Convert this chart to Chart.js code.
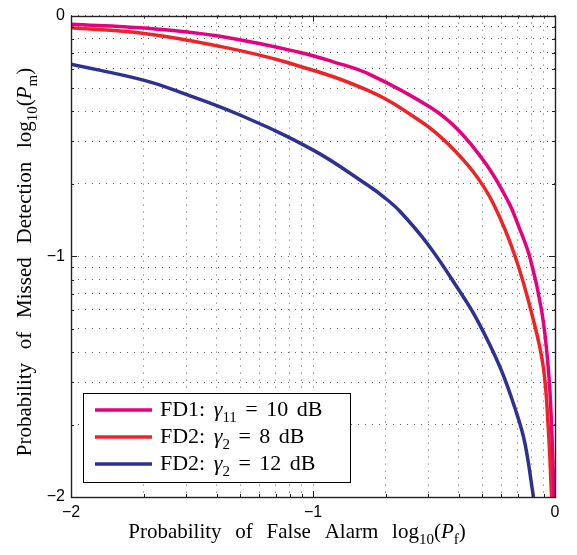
<!DOCTYPE html>
<html>
<head>
<meta charset="utf-8">
<script src="https://cdn.jsdelivr.net/npm/chart.js@4"></script>
<style>
  html, body { margin: 0; padding: 0; background: #fff; }
  #wrap { width: 577px; height: 555px; }
</style>
</head>
<body>
<div id="wrap"><canvas id="rocChart"></canvas></div>
<script>
// axis decades (log10 values)
const majorTicks = [-2, -1, 0];

// FD1: gamma_11 = 10 dB
const fd1X = [-2, -1.697, -1.398, -1.054, -0.916, -0.764, -0.517, -0.400, -0.282, -0.193, -0.153, -0.103, -0.055, -0.028, -0.014, -0.004];
const fd1Y = [-0.036, -0.052, -0.084, -0.153, -0.192, -0.245, -0.380, -0.475, -0.621, -0.773, -0.868, -1.007, -1.227, -1.461, -1.709, -2.0];

// FD2: gamma_2 = 8 dB
const fd2aX = [-2, -1.697, -1.398, -1.109, -0.764, -0.551, -0.446, -0.338, -0.255, -0.165, -0.090, -0.048, -0.028, -0.014];
const fd2aY = [-0.050, -0.074, -0.125, -0.194, -0.315, -0.442, -0.529, -0.649, -0.781, -1.0, -1.262, -1.462, -1.710, -2.0];

// FD2: gamma_2 = 12 dB
const fd2bX = [-2, -1.697, -1.550, -1.302, -0.999, -0.778, -0.702, -0.640, -0.524, -0.400, -0.324, -0.227, -0.158, -0.124, -0.089];
const fd2bY = [-0.202, -0.269, -0.318, -0.413, -0.559, -0.702, -0.758, -0.814, -0.952, -1.136, -1.260, -1.461, -1.654, -1.778, -2.0];

// legend text pieces: [text, kind] kind: n normal, i italic, sub subscript
const seriesLabels = [
    [['FD1: ', 'n'], ['γ', 'i'], ['11', 'sub'], [' = 10 dB', 'n']],
    [['FD2: ', 'n'], ['γ', 'i'], ['2', 'sub'], [' = 8 dB', 'n']],
    [['FD2: ', 'n'], ['γ', 'i'], ['2', 'sub'], [' = 12 dB', 'n']]
];
const seriesColors = ['#E6007E', '#EE2326', '#2E3192'];

const xTitle = [['Probability of False Alarm log', 'n'], ['10', 'sub'], ['(', 'n'], ['P', 'i'], ['f', 'sub'], [')', 'n']];
const yTitle = [['Probability of Missed Detection log', 'n'], ['10', 'sub'], ['(', 'n'], ['P', 'i'], ['m', 'sub'], [')', 'n']];

const toPoints = (xs, ys) => xs.map((x, i) => ({ x, y: ys[i] }));

// log-style positions inside each decade
const logTicks = () => {
    const out = [];
    for (let d = -2; d < 0; d++) {
        for (let k = 1; k < 10; k++) out.push({ value: d + Math.log10(k) });
    }
    out.push({ value: 0 });
    return out;
};
const isMajor = v => majorTicks.some(m => Math.abs(m - v) < 1e-9);

const SERIF = '"Liberation Serif", "Times New Roman", serif';

// draws text pieces left to right, extra px added after each space
const drawRich = (ctx, segs, x, y, size, gap, measureOnly) => {
    let cx = x;
    segs.forEach(([t, k]) => {
        const sub = k === 'sub';
        const fs = sub ? Math.round(size * 0.7) : size;
        ctx.font = (k === 'i' ? 'italic ' : '') + fs + 'px ' + SERIF;
        t.split(/( )/).forEach(part => {
            if (part === '') return;
            if (!measureOnly && part !== ' ') ctx.fillText(part, cx, y + (sub ? size * 0.28 : 0));
            cx += ctx.measureText(part).width + (part === ' ' ? gap : 0);
        });
    });
    return cx - x;
};

const frame = {
    id: 'frame',
    afterDatasetsDraw(chart) {
        const { ctx, chartArea: a, scales } = chart;
        ctx.save();
        ctx.strokeStyle = '#222';
        ctx.lineWidth = 1;
        ctx.beginPath();
        scales.x.ticks.forEach(t => {
            const px = Math.round(scales.x.getPixelForValue(t.value)) + 0.5;
            const len = isMajor(t.value) ? 6 : 3;
            ctx.moveTo(px, a.bottom); ctx.lineTo(px, a.bottom - len);
            ctx.moveTo(px, a.top); ctx.lineTo(px, a.top + len);
        });
        scales.y.ticks.forEach(t => {
            const py = Math.round(scales.y.getPixelForValue(t.value)) + 0.5;
            const len = isMajor(t.value) ? 6 : 3;
            ctx.moveTo(a.left, py); ctx.lineTo(a.left + len, py);
            ctx.moveTo(a.right, py); ctx.lineTo(a.right - len, py);
        });
        ctx.stroke();
        ctx.lineWidth = 1.4;
        ctx.strokeRect(Math.round(a.left) + 0.5, Math.round(a.top) + 0.5, Math.round(a.right - a.left), Math.round(a.bottom - a.top));
        ctx.restore();
    },
    afterDraw(chart) {
        const { ctx } = chart;
        ctx.save();
        ctx.fillStyle = '#000';
        ctx.textBaseline = 'alphabetic';
        ctx.textAlign = 'left';

        // axis titles
        const tsize = 21, tgap = 8.5;
        const xw = drawRich(ctx, xTitle, 0, 0, tsize, tgap, true);
        drawRich(ctx, xTitle, 297 - xw / 2, 538, tsize, tgap);
        const yw = drawRich(ctx, yTitle, 0, 0, tsize, tgap, true);
        ctx.save();
        ctx.translate(31, 262);
        ctx.rotate(-Math.PI / 2);
        drawRich(ctx, yTitle, -yw / 2, 0, tsize, tgap);
        ctx.restore();

        // legend
        const lsize = 22, lgap = 3;
        const bx = 83, by = 393, rowH = 27;
        const bw = 267, bh = 89;
        ctx.fillStyle = '#fff';
        ctx.fillRect(bx, by, bw, bh);
        ctx.strokeStyle = '#000';
        ctx.lineWidth = 1;
        ctx.strokeRect(bx + 0.5, by + 0.5, bw, bh);
        seriesLabels.forEach((segs, i) => {
            const cy = by + 17 + i * rowH;
            ctx.strokeStyle = seriesColors[i];
            ctx.lineWidth = 3.5;
            ctx.beginPath();
            ctx.moveTo(95, cy); ctx.lineTo(152, cy);
            ctx.stroke();
            ctx.fillStyle = '#000';
            drawRich(ctx, segs, 160, cy + 6, lsize, lgap);
        });
        ctx.restore();
    }
};

const axisOpts = (fitKey, fitSize) => ({
    type: 'linear',
    min: -2,
    max: 0,
    afterBuildTicks: s => { s.ticks = logTicks(); },
    afterFit: s => { s[fitKey] = fitSize; },
    ticks: {
        autoSkip: false,
        maxRotation: 0,
        padding: 6,
        color: '#000',
        font: { family: '"Liberation Sans", Arial, sans-serif', size: 16 },
        callback: v => isMajor(v) ? String(Math.round(v)).replace('-', '\u2212') : ''
    },
    grid: { color: 'rgba(0,0,0,0.6)', lineWidth: 1, drawTicks: false },
    border: { display: false, dash: [1, 6] }
});

new Chart(document.getElementById('rocChart'), {
    type: 'scatter',
    data: {
        datasets: [
            { label: 'FD1', data: toPoints(fd1X, fd1Y), borderColor: seriesColors[0] },
            { label: 'FD2 8 dB', data: toPoints(fd2aX, fd2aY), borderColor: seriesColors[1] },
            { label: 'FD2 12 dB', data: toPoints(fd2bX, fd2bY), borderColor: seriesColors[2] }
        ].map(d => Object.assign(d, {
            showLine: true,
            borderWidth: 3.5,
            pointRadius: 0,
            tension: 0.4
        }))
    },
    options: {
        responsive: true,
        maintainAspectRatio: false,
        animation: false,
        layout: { padding: { top: 13, right: 22, left: 0, bottom: 0 } },
        plugins: { legend: { display: false }, tooltip: { enabled: false } },
        scales: {
            x: axisOpts('height', 58),
            y: axisOpts('width', 71)
        }
    },
    plugins: [frame]
});
</script>
</body>
</html>
